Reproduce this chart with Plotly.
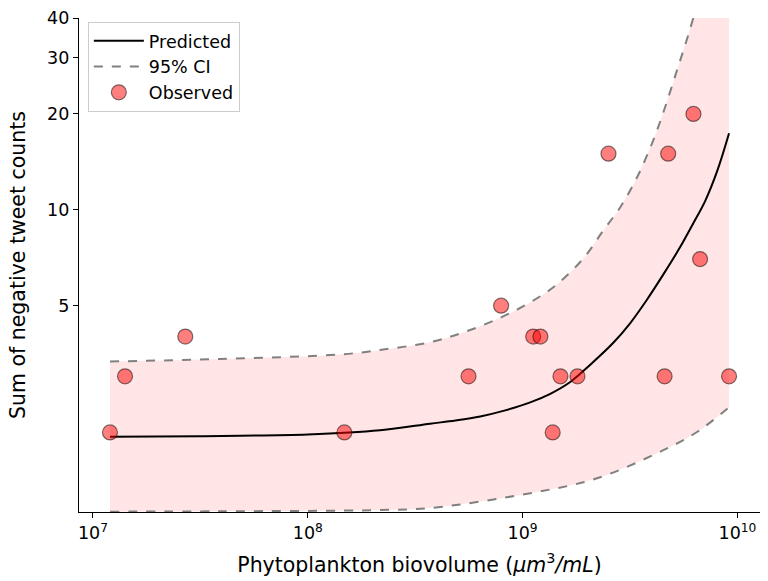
import plotly.graph_objects as go

# Observed samples: phytoplankton biovolume (µm^3/mL) vs. negative tweet count
obs_biovolume = [1.20e7, 1.41e7, 2.69e7, 1.48e8, 5.60e8, 7.94e8, 1.12e9, 1.21e9,
                 1.38e9, 1.50e9, 1.80e9, 2.51e9, 4.58e9, 4.76e9, 6.24e9, 6.70e9, 9.14e9]
obs_counts = [2, 3, 4, 2, 3, 5, 4, 4, 2, 3, 3, 15, 3, 15, 20, 7, 3]

# Fitted model curve
pred_x = [1.2e7, 3.15e7, 1.0e8, 2.17e8, 3.71e8, 4.86e8, 6.35e8, 8.30e8, 1.085e9, 1.345e9,
          1.666e9, 2.065e9, 2.65e9, 3.17e9, 3.79e9, 4.52e9, 5.42e9, 6.23e9, 7.09e9, 8.06e9, 9.14e9]
pred_y = [1.94, 1.947, 1.97, 2.03, 2.13, 2.18, 2.245, 2.346, 2.485, 2.644,
          2.88, 3.263, 3.83, 4.411, 5.22, 6.268, 7.65, 9.07, 10.69, 13.27, 17.39]

# 95% confidence band, upper edge
upper_x = [1.2e7, 3.9e7, 1.46e8, 2.17e8, 3.71e8, 5.40e8, 7.95e8, 1.085e9, 1.434e9, 1.92e9,
           2.38e9, 2.85e9, 3.41e9, 3.93e9, 4.37e9, 5.19e9, 6.23e9, 7.48e9, 9.14e9]
upper_y = [3.34, 3.40, 3.52, 3.63, 3.84, 4.14, 4.595, 5.12, 5.81, 7.04,
           8.63, 10.19, 12.65, 15.68, 18.93, 26.95, 40.0, 64.5, 123.0]

# 95% confidence band, lower edge
lower_x = [1.2e7, 3.9e7, 2.17e8, 3.71e8, 1.085e9, 2.22e9, 4.52e9, 6.48e9, 9.14e9]
lower_y = [1.128, 1.131, 1.141, 1.158, 1.289, 1.436, 1.759, 2.006, 2.40]

x_tickvals = [1e7, 1e8, 1e9, 1e10]
x_ticktext = ["10<sup>7</sup>", "10<sup>8</sup>", "10<sup>9</sup>", "10<sup>10</sup>"]
y_tickvals = [5, 10, 20, 30, 40]

FONT = "DejaVu Sans"

fig = go.Figure()

# shaded band (lower edge is invisible, upper edge fills down to it)
fig.add_trace(go.Scatter(x=lower_x, y=lower_y, mode="lines",
                         line=dict(width=0, color="rgba(0,0,0,0)", shape="spline"),
                         showlegend=False, hoverinfo="skip"))
fig.add_trace(go.Scatter(x=upper_x, y=upper_y, mode="lines", fill="tonexty",
                         fillcolor="rgba(255,0,0,0.1)",
                         line=dict(width=0, color="rgba(0,0,0,0)", shape="spline"),
                         showlegend=False, hoverinfo="skip"))

fig.add_trace(go.Scatter(x=pred_x, y=pred_y, mode="lines", name="Predicted",
                         line=dict(color="black", width=2, shape="spline")))
fig.add_trace(go.Scatter(x=upper_x, y=upper_y, mode="lines", name="95% CI",
                         line=dict(color="gray", width=2, dash="dash", shape="spline")))
fig.add_trace(go.Scatter(x=lower_x, y=lower_y, mode="lines", showlegend=False,
                         line=dict(color="gray", width=2, dash="dash", shape="spline")))

fig.add_trace(go.Scatter(x=obs_biovolume, y=obs_counts, mode="markers", name="Observed",
                         marker=dict(size=15, color="rgba(255,0,0,0.5)",
                                     line=dict(color="rgba(0,0,0,0.5)", width=1.2))))

fig.update_layout(
    width=768, height=581,
    margin=dict(l=79, r=8, t=16, b=67),
    paper_bgcolor="white", plot_bgcolor="white",
    font=dict(family=FONT, size=17.5, color="black"),
    legend=dict(x=0.013, y=0.992, xanchor="left", yanchor="top",
                traceorder="normal", itemwidth=50,
                bgcolor="rgba(255,255,255,0.8)", bordercolor="#cccccc", borderwidth=1,
                font=dict(family=FONT, size=17.5)),
)

fig.update_xaxes(type="log", range=[6.935, 10.105],
                 tickvals=x_tickvals, ticktext=x_ticktext,
                 showline=True, linecolor="black", linewidth=1.3,
                 ticks="outside", ticklen=5, tickwidth=1.3, tickcolor="black",
                 showgrid=False, zeroline=False,
                 tickfont=dict(family=FONT, size=17.5),
                 title=dict(text="Phytoplankton biovolume (<i>μm</i><sup>3</sup><i>/mL</i>)",
                            font=dict(family=FONT, size=20.5)))
fig.update_yaxes(type="log", range=[0.0512, 1.6021],
                 tickvals=y_tickvals, ticktext=[str(v) for v in y_tickvals],
                 showline=True, linecolor="black", linewidth=1.3,
                 ticks="outside", ticklen=5, tickwidth=1.3, tickcolor="black",
                 showgrid=False, zeroline=False,
                 tickfont=dict(family=FONT, size=17.5),
                 title=dict(text="Sum of negative tweet counts",
                            font=dict(family=FONT, size=20.5)))

fig.write_html("out.html")
